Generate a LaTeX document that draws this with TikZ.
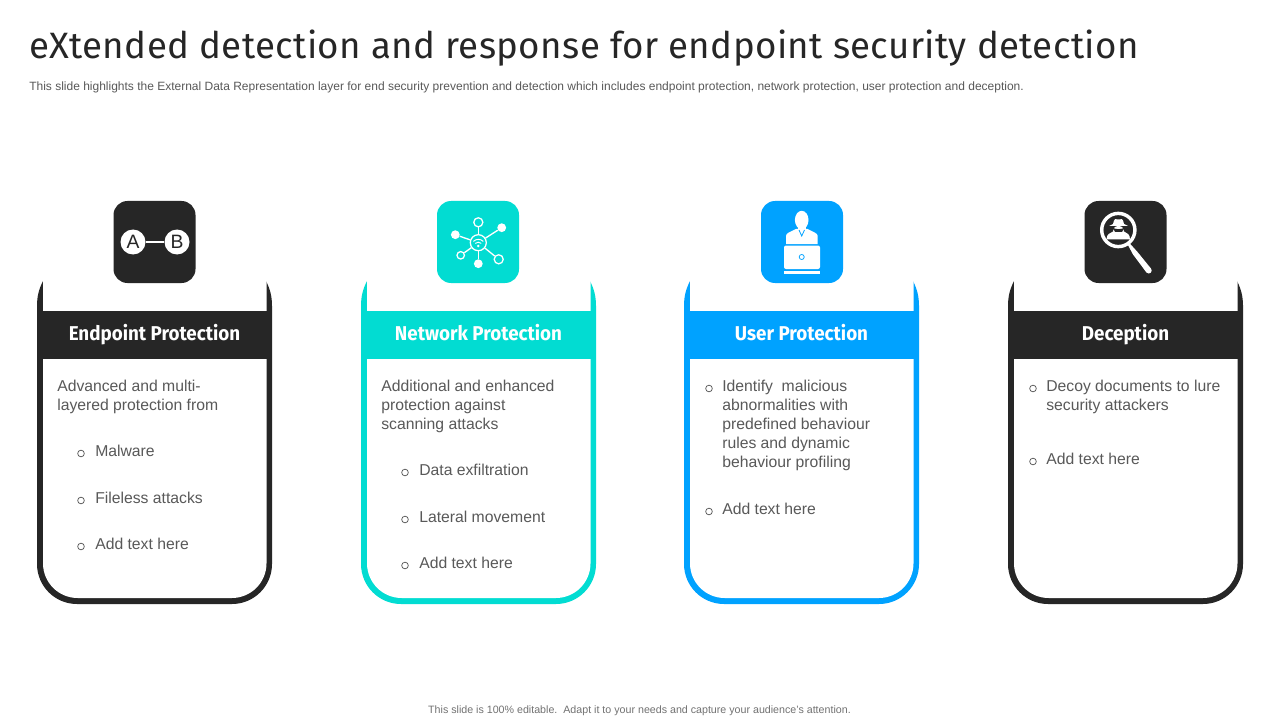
\documentclass[tikz,border=0pt]{standalone}
\usepackage{fontspec}
\setmainfont{Liberation Sans}
\newfontfamily\titlefont[LetterSpace=1.05]{Fira Sans}
\newfontfamily\headfont[FakeStretch=0.94]{Fira Sans}
\usepackage{xcolor}
\definecolor{darkcard}{HTML}{262626}
\definecolor{cyancard}{HTML}{02DCD2}
\definecolor{bluecard}{HTML}{00A2FF}
\definecolor{bodytext}{HTML}{595959}
\tikzstyle{iconbox} = [rectangle, rounded corners=10.5pt, minimum width=61.5pt, minimum height=61.5pt, inner sep=0pt]
\tikzstyle{headbar} = [rectangle, minimum width=176.25pt, minimum height=36pt, inner sep=0pt, text=white, text height=11pt, text depth=3.4pt, font=\headfont\bfseries\fontsize{15}{18}\selectfont]
\tikzstyle{bodyline} = [anchor=base west, inner sep=0pt, text=bodytext, font=\fontsize{11.8}{14}\selectfont]
\tikzstyle{bulletmark} = [circle, draw=bodytext, line width=0.55pt, minimum size=5pt, inner sep=0pt]
\tikzstyle{dotwhite} = [circle, fill=white, inner sep=0pt, minimum size=6.6pt]
\tikzstyle{dotring} = [circle, draw=white, line width=0.95pt, inner sep=0pt, minimum size=6.8pt]
\tikzstyle{iconline} = [draw=white, line width=1pt]
\newcommand{\cardshape}[2]{
  \fill[#2] (#1+6,281) .. controls (#1+2,289) and (#1,296) .. (#1,306)
    [rounded corners=30pt] -- (#1,604) -- (#1+235,604) [sharp corners] -- (#1+235,306)
    .. controls (#1+235,296) and (#1+233,289) .. (#1+229,281) -- cycle;
  \fill[white] (#1+6,275) [rounded corners=26pt] -- (#1+6,598) -- (#1+229.5,598) [sharp corners] -- (#1+229.5,275) -- cycle;
}
\begin{document}
\begin{tikzpicture}[x=0.75pt,y=-0.75pt]
\useasboundingbox (0,0) rectangle (1280,720);
\fill[white] (0,0) rectangle (1280,720);

\node (title) [anchor=base west, inner sep=0pt, text=darkcard, font=\titlefont\fontsize{27.5}{32}\selectfont] at (29,59) {eXtended detection and response for endpoint security detection};
\node (subtitle) [anchor=base west, inner sep=0pt, text=bodytext, font=\fontsize{9}{11}\selectfont] at (29,91) {This slide highlights the External Data Representation layer for end security prevention and detection which includes endpoint protection, network protection, user protection and deception.};
\node (footer) [anchor=base, inner sep=0pt, text=bodytext!85, font=\fontsize{8}{10}\selectfont] at (639.5,713) {This slide is 100\% editable.\ \ Adapt it to your needs and capture your audience's attention.};

\cardshape{37}{darkcard}
\cardshape{361}{cyancard}
\cardshape{684}{bluecard}
\cardshape{1008}{darkcard}

\node (head1) [headbar, fill=darkcard] at (154.5,335) {Endpoint Protection};
\node (head2) [headbar, fill=cyancard] at (478.5,335) {Network Protection};
\node (head3) [headbar, fill=bluecard] at (801.5,335) {User Protection};
\node (head4) [headbar, fill=darkcard] at (1125.5,335) {Deception};

\node (icon1) [iconbox, fill=darkcard] at (154.5,242) {};
\node (icon2) [iconbox, fill=cyancard] at (478,242) {};
\node (icon3) [iconbox, fill=bluecard] at (802,242) {};
\node (icon4) [iconbox, fill=darkcard] at (1125.5,242) {};

% A-B icon
\node (a) [circle, fill=white, text=darkcard, inner sep=0pt, minimum size=18.75pt, font=\fontsize{14.5}{16}\selectfont] at (133,242) {A};
\node (b) [circle, fill=white, text=darkcard, inner sep=0pt, minimum size=18.75pt, font=\fontsize{14.5}{16}\selectfont] at (177,242) {B};
\draw [iconline] (a) -- (b);

% network icon
\node (hub) [dotring, minimum size=12pt] at (478.3,242.7) {};
\node (n1) [dotring] at (478.3,222.3) {};
\node (n2) [dotwhite] at (501.7,227.7) {};
\node (n3) [dotwhite] at (455.3,234.7) {};
\node (n4) [dotring, minimum size=5.6pt] at (460.7,255.3) {};
\node (n5) [dotwhite] at (478.3,263.7) {};
\node (n6) [dotring] at (498.7,259.3) {};
\foreach \n in {n1,n2,n3,n4,n5,n6} \draw [iconline] (hub) -- (\n);
\draw [white, line width=0.7pt] (473.4,241.4) arc (225:315:7);
\draw [white, line width=0.7pt] (475.3,243.4) arc (225:315:4.2);
\fill [white] (478.3,246) circle (1.4);

% user icon
\fill [white] (801.7,220) ellipse (6.8 and 9.2);
\fill [white] (797.5,225) rectangle (806,231);
\fill [white] (786,244) -- (786,236) .. controls (786,233) and (790,232) .. (796,229) -- (807.5,229) .. controls (813,232) and (817.7,233) .. (817.7,236) -- (817.7,244) -- cycle;
\draw [bluecard, line width=0.6pt] (799,230) -- (801.7,236) -- (804.5,230);
\fill [white, rounded corners=1.5pt] (784,245.5) rectangle (820,269);
\fill [white] (784,271) rectangle (820,273.5);
\node (lens) [circle, draw=bluecard, line width=0.55pt, inner sep=0pt, minimum size=3.8pt] at (801.7,257) {};

% spy glass icon
\draw [white, line width=2.6pt] (1118.3,230) circle (16.6);
\fill [white] (1127.3,243.8) -- (1129,242.6) -- (1137.5,252) -- (1151,268.6) -- (1146.4,272.4) -- (1133,254.5) -- cycle;
\fill [white] (1148.7,270.5) circle (3);
\fill [white] (1106.5,239.5) .. controls (1106.5,234) and (1110,233) .. (1113,231.5) -- (1124,231.5) .. controls (1127,233) and (1130,234) .. (1130,239.5) -- cycle;
\fill [white] (1118.5,231) ellipse (5.4 and 5.4);
\fill [white] (1113,224) .. controls (1114,218) and (1116,218.5) .. (1118.5,219.5) .. controls (1121,218.5) and (1123,218) .. (1124,224) -- (1128,226) -- (1109,226) -- cycle;
\fill [darkcard] (1113,228) .. controls (1116,229.5) and (1121,229.5) .. (1124,228) -- (1122,232) -- (1115,232) -- cycle;

% card 1 text
\node (t11) [bodyline] at (57,391.5) {Advanced and multi-};
\node (t12) [bodyline] at (57,410.5) {layered protection from};
\node (m11) [bulletmark] at (81,453.5) {};
\node (t13) [bodyline] at (95,456.5) {Malware};
\node (m12) [bulletmark] at (81,500.5) {};
\node (t14) [bodyline] at (95,503.5) {Fileless attacks};
\node (m13) [bulletmark] at (81,546.5) {};
\node (t15) [bodyline] at (95,549.5) {Add text here};

% card 2 text
\node (t21) [bodyline] at (381,391.5) {Additional and enhanced};
\node (t22) [bodyline] at (381,410.5) {protection against};
\node (t23) [bodyline] at (381,429.5) {scanning attacks};
\node (m21) [bulletmark] at (405,472.5) {};
\node (t24) [bodyline] at (419,475.5) {Data exfiltration};
\node (m22) [bulletmark] at (405,519.5) {};
\node (t25) [bodyline] at (419,522.5) {Lateral movement};
\node (m23) [bulletmark] at (405,565.5) {};
\node (t26) [bodyline] at (419,568.5) {Add text here};

% card 3 text
\node (m31) [bulletmark] at (709,388.5) {};
\node (t31) [bodyline] at (722,391.5) {Identify\ \ malicious};
\node (t32) [bodyline] at (722,410.5) {abnormalities with};
\node (t33) [bodyline] at (722,429.5) {predefined behaviour};
\node (t34) [bodyline] at (722,448.5) {rules and dynamic};
\node (t35) [bodyline] at (722,467.5) {behaviour profiling};
\node (m32) [bulletmark] at (709,511.5) {};
\node (t36) [bodyline] at (722,514.5) {Add text here};

% card 4 text
\node (m41) [bulletmark] at (1033,388.5) {};
\node (t41) [bodyline] at (1046,391.5) {Decoy documents to lure};
\node (t42) [bodyline] at (1046,410.5) {security attackers};
\node (m42) [bulletmark] at (1033,461.5) {};
\node (t43) [bodyline] at (1046,464.5) {Add text here};
\end{tikzpicture}
\end{document}
